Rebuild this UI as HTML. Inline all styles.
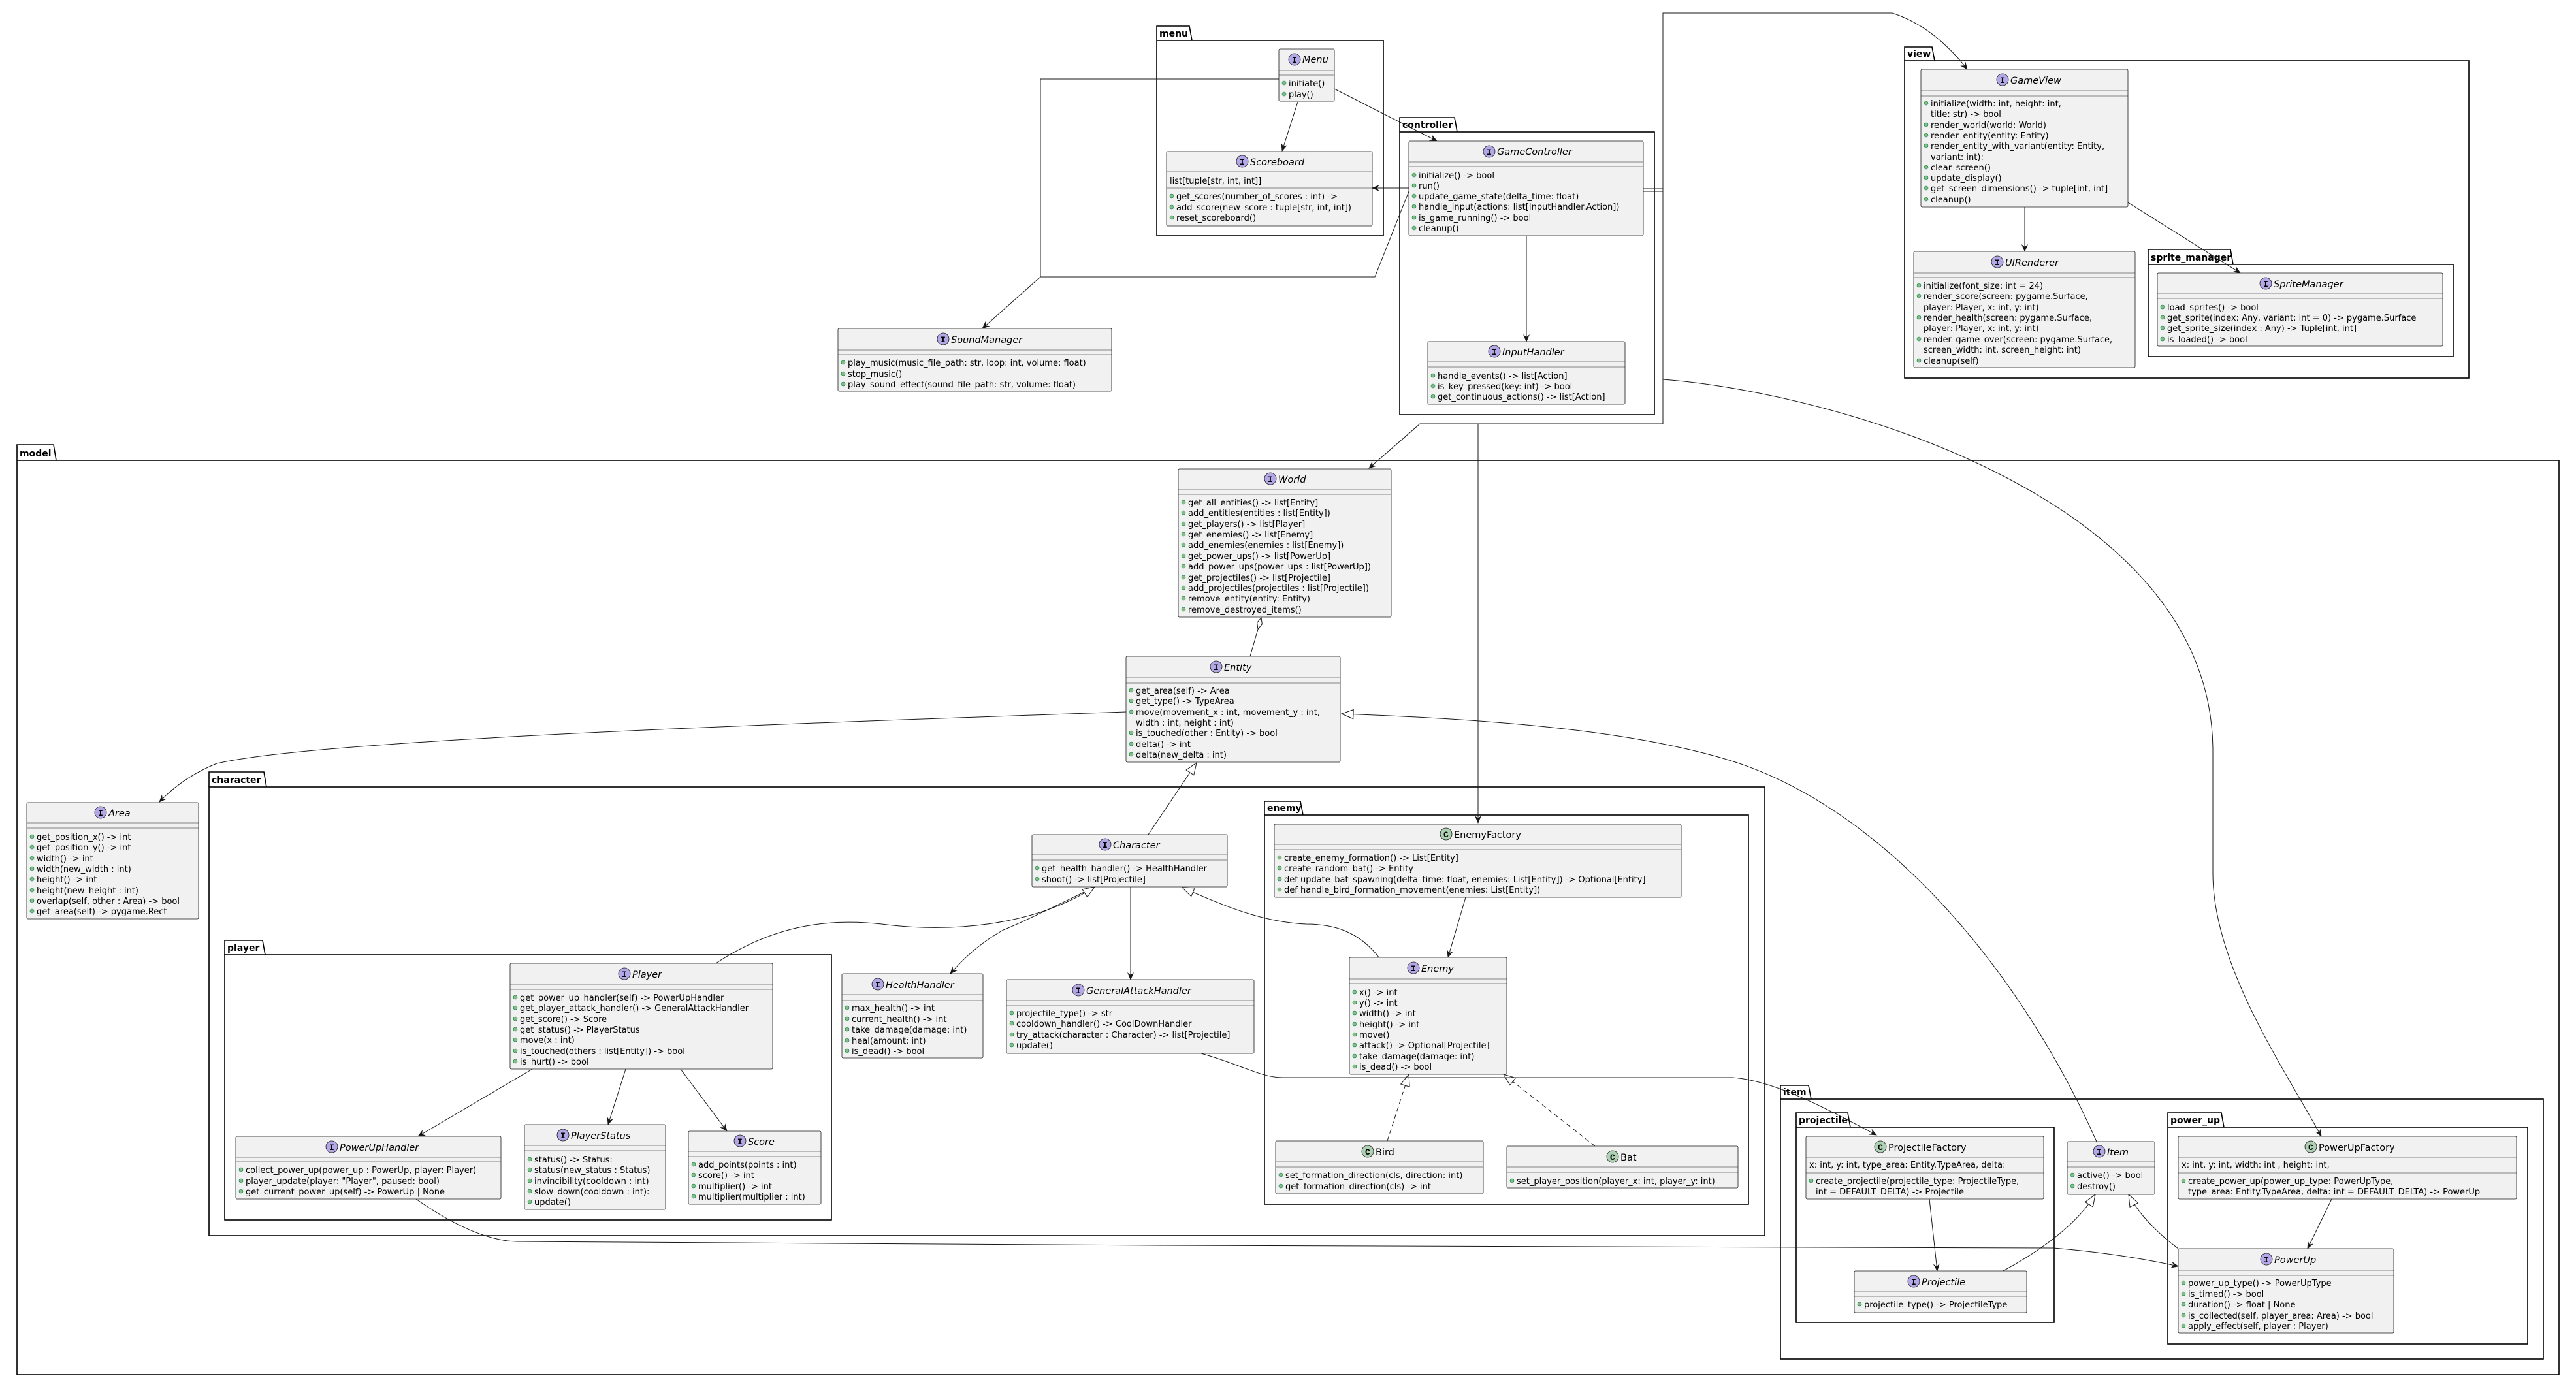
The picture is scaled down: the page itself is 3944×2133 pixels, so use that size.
<!DOCTYPE html>
<html><head><meta charset="utf-8"><style>
html,body{margin:0;padding:0;background:#fff}
svg text{font-family:"DejaVu Sans","Liberation Sans",sans-serif;fill:#000}
.m{font-size:13px}
.n{font-size:14.5px;font-style:italic}
.c{font-size:14.5px}
.p{font-size:14px;font-weight:bold}
.ic{font-size:13px;font-weight:bold;font-family:"Liberation Mono",monospace}
.box{fill:#F1F1F1;stroke:#181818;stroke-width:0.8}
.sep{stroke:#181818;stroke-width:0.6}
.pk{fill:none;stroke:#000;stroke-width:1.6}
.l{fill:none;stroke:#181818;stroke-width:1}
.b{fill:#84BE84;stroke:#038048;stroke-width:0.6}
</style></head><body>
<svg width="3944" height="2128" viewBox="0 0 3944 2128" xmlns="http://www.w3.org/2000/svg">
<defs>
<marker id="a" viewBox="0 0 12 10" refX="11" refY="5" markerWidth="12" markerHeight="10" markerUnits="userSpaceOnUse" orient="auto"><path d="M0,0 L12,5 L0,10 L4,5 z" fill="#181818"/></marker>
<marker id="t" viewBox="0 0 20 16" refX="19" refY="8" markerWidth="20" markerHeight="16" markerUnits="userSpaceOnUse" orient="auto"><path d="M1,1 L19,8 L1,15 z" fill="#fff" stroke="#181818" stroke-width="1"/></marker>
<marker id="d" viewBox="0 0 20 10" refX="1" refY="5" markerWidth="20" markerHeight="10" markerUnits="userSpaceOnUse" orient="auto"><path d="M1,5 L10,1 L19,5 L10,9 z" fill="#fff" stroke="#181818" stroke-width="1"/></marker>
</defs>

<!-- PACKAGES -->
<g>
<path class="pk" d="M1771,62 V40 H1821 L1825,62"/><rect class="pk" x="1771" y="62" width="347" height="299"/><text class="p" x="1775" y="56">menu</text>
<path class="pk" d="M2143,202 V180 H2227 L2231,202"/><rect class="pk" x="2143" y="202" width="390" height="433"/><text class="p" x="2147" y="196">controller</text>
<path class="pk" d="M2916,93 V72 H2958 L2962,93"/><rect class="pk" x="2916" y="93" width="864" height="486"/><text class="p" x="2920" y="87">view</text>
<path class="pk" d="M3289,405 V382 H3415 L3419,405"/><rect class="pk" x="3289" y="405" width="467" height="141"/><text class="p" x="3293" y="399">sprite_manager</text>
<path class="pk" d="M26,705 V681 H82 L86,705"/><rect class="pk" x="26" y="705" width="3892" height="1400"/><text class="p" x="30" y="699">model</text>
<path class="pk" d="M320,1205 V1182 H404 L408,1205"/><rect class="pk" x="320" y="1205" width="2382" height="687"/><text class="p" x="324" y="1199">character</text>
<path class="pk" d="M344,1462 V1440 H402 L406,1462"/><rect class="pk" x="344" y="1462" width="929" height="406"/><text class="p" x="348" y="1456">player</text>
<path class="pk" d="M1936,1248 V1227 H1991 L1995,1248"/><rect class="pk" x="1936" y="1248" width="741" height="596"/><text class="p" x="1940" y="1242">enemy</text>
<path class="pk" d="M2726,1683 V1662 H2769 L2773,1683"/><rect class="pk" x="2726" y="1683" width="1168" height="398"/><text class="p" x="2730" y="1677">item</text>
<path class="pk" d="M2750,1726 V1704 H2829 L2833,1726"/><rect class="pk" x="2750" y="1726" width="395" height="299"/><text class="p" x="2754" y="1720">projectile</text>
<path class="pk" d="M3319,1726 V1704 H3401 L3405,1726"/><rect class="pk" x="3319" y="1726" width="551" height="332"/><text class="p" x="3323" y="1720">power_up</text>
</g>

<!-- CONNECTORS -->
<g>
<path class="l" d="M1958,121 H1593 V424 L1504,503" marker-end="url(#a)"/>
<path class="l" d="M2159,288 L2105,424 H1593"/>
<path class="l" d="M1987,156 L1963,231" marker-end="url(#a)"/>
<path class="l" d="M2043,136 L2200,216" marker-end="url(#a)"/>
<path class="l" d="M2157,288 L2101,288" marker-end="url(#a)"/>
<path class="l" d="M2337,361 V523" marker-end="url(#a)"/>
<path class="l" d="M2516,289 H2546 M2516,293 H2546"/>
<path class="l" d="M2546,291 V20 H2897 Q2960,40 3012,106" marker-end="url(#a)"/>
<path class="l" d="M2546,291 V649 H2174 L2096,717" marker-end="url(#a)"/>
<path class="l" d="M2263,649 V1260" marker-end="url(#a)"/>
<path class="l" d="M2546,581 C2800,600 3388,760 3388,1150 V1337 C3388,1480 3500,1640 3554,1740" marker-end="url(#a)"/>
<path class="l" d="M3100,317 V385" marker-end="url(#a)"/>
<path class="l" d="M3258,310 L3430,418" marker-end="url(#a)"/>
<path class="l" d="M1931,946 L1914,1005" marker-start="url(#d)"/>
<path class="l" d="M1724,1090 C1300,1105 500,1130 332,1169 Q280,1190 244,1228" marker-end="url(#a)"/>
<path class="l" d="M1758,1278 L1832,1168" marker-end="url(#t)"/>
<path class="l" d="M3210,1748 C3100,1500 2900,1250 2663,1169 C2500,1115 2250,1100 2054,1093" marker-end="url(#t)"/>
<path class="l" d="M1676,1358 Q1560,1415 1536,1424 Q1490,1450 1455,1491" marker-end="url(#a)"/>
<path class="l" d="M1731,1358 V1500" marker-end="url(#a)"/>
<path class="l" d="M1096,1475 C1180,1420 1260,1405 1350,1415 C1450,1428 1580,1420 1676,1358" marker-end="url(#t)"/>
<path class="l" d="M2112,1467 C2080,1425 2040,1415 2000,1415 C1930,1412 1870,1385 1810,1359" marker-end="url(#t)"/>
<path class="l" d="M2244,1374 L2217,1466" marker-end="url(#a)"/>
<path class="l" d="M2124,1747 L2157,1645" stroke-dasharray="7,5" marker-end="url(#t)"/>
<path class="l" d="M2442,1755 L2302,1645" stroke-dasharray="7,5" marker-end="url(#t)"/>
<path class="l" d="M1839,1613 C1900,1630 1930,1650 1964,1650 H2653 C2720,1655 2800,1700 2873,1738" marker-end="url(#a)"/>
<path class="l" d="M815,1637 L640,1740" marker-end="url(#a)"/>
<path class="l" d="M958,1637 L931,1722" marker-end="url(#a)"/>
<path class="l" d="M1042,1637 L1113,1732" marker-end="url(#a)"/>
<path class="l" d="M637,1836 C700,1880 750,1900 791,1901 C1500,1908 2800,1910 3144,1911 Q3250,1920 3335,1939" marker-end="url(#a)"/>
<path class="l" d="M2954,1836 L2966,1946" marker-end="url(#a)"/>
<path class="l" d="M3570,1836 L3533,1912" marker-end="url(#a)"/>
<path class="l" d="M3067,1946 Q3170,1890 3208,1829" marker-end="url(#t)"/>
<path class="l" d="M3335,1912 Q3280,1870 3259,1829" marker-end="url(#t)"/>
</g>

<!-- CLASSES -->
<!-- Menu -->
<g><rect class="box" x="1958" y="75" width="85" height="80" rx="2"/><line class="sep" x1="1958" y1="108" x2="2043" y2="108"/><line class="sep" x1="1958" y1="115" x2="2043" y2="115"/>
<circle cx="1982" cy="91" r="9" fill="#B4A7E5" stroke="#181818" stroke-width="0.8"/><text class="ic" x="1978" y="96">I</text><text class="n" x="1994" y="96">Menu</text>
<circle class="b" cx="1966" cy="127" r="3"/><text class="m" x="1973" y="132">initiate()</text>
<circle class="b" cx="1966" cy="144" r="3"/><text class="m" x="1973" y="149">play()</text></g>

<!-- Scoreboard -->
<g><rect class="box" x="1786" y="232" width="315" height="114" rx="2"/><line class="sep" x1="1786" y1="263" x2="2101" y2="263"/><line class="sep" x1="1786" y1="288" x2="2101" y2="288"/>
<circle cx="1902" cy="247" r="9" fill="#B4A7E5" stroke="#181818" stroke-width="0.8"/><text class="ic" x="1898" y="252">I</text><text class="n" x="1914" y="253">Scoreboard</text>
<text class="m" x="1791" y="281">list[tuple[str, int, int]]</text>
<circle class="b" cx="1794" cy="300" r="3"/><text class="m" x="1801" y="305">get_scores(number_of_scores : int) -&gt;</text>
<circle class="b" cx="1794" cy="317" r="3"/><text class="m" x="1801" y="322">add_score(new_score : tuple[str, int, int])</text>
<circle class="b" cx="1794" cy="333" r="3"/><text class="m" x="1801" y="338">reset_scoreboard()</text></g>

<!-- GameController -->
<g><rect class="box" x="2157" y="216" width="359" height="145" rx="2"/><line class="sep" x1="2157" y1="248" x2="2516" y2="248"/><line class="sep" x1="2157" y1="255" x2="2516" y2="255"/>
<circle cx="2280" cy="232" r="9" fill="#B4A7E5" stroke="#181818" stroke-width="0.8"/><text class="ic" x="2276" y="237">I</text><text class="n" x="2292" y="237">GameController</text>
<circle class="b" cx="2165" cy="268" r="3"/><text class="m" x="2172" y="273">initialize() -&gt; bool</text>
<circle class="b" cx="2165" cy="284" r="3"/><text class="m" x="2172" y="289">run()</text>
<circle class="b" cx="2165" cy="300" r="3"/><text class="m" x="2172" y="305">update_game_state(delta_time: float)</text>
<circle class="b" cx="2165" cy="316" r="3"/><text class="m" x="2172" y="321">handle_input(actions: list[InputHandler.Action])</text>
<circle class="b" cx="2165" cy="333" r="3"/><text class="m" x="2172" y="338">is_game_running() -&gt; bool</text>
<circle class="b" cx="2165" cy="349" r="3"/><text class="m" x="2172" y="354">cleanup()</text></g>

<!-- InputHandler -->
<g><rect class="box" x="2186" y="523" width="302" height="96" rx="2"/><line class="sep" x1="2186" y1="554" x2="2488" y2="554"/><line class="sep" x1="2186" y1="562" x2="2488" y2="562"/>
<circle cx="2288" cy="538" r="9" fill="#B4A7E5" stroke="#181818" stroke-width="0.8"/><text class="ic" x="2284" y="543">I</text><text class="n" x="2300" y="544">InputHandler</text>
<circle class="b" cx="2194" cy="575" r="3"/><text class="m" x="2201" y="580">handle_events() -&gt; list[Action]</text>
<circle class="b" cx="2194" cy="591" r="3"/><text class="m" x="2201" y="596">is_key_pressed(key: int) -&gt; bool</text>
<circle class="b" cx="2194" cy="607" r="3"/><text class="m" x="2201" y="612">get_continuous_actions() -&gt; list[Action]</text></g>

<!-- SoundManager -->
<g><rect class="box" x="1283" y="503" width="419" height="96" rx="2"/><line class="sep" x1="1283" y1="536" x2="1702" y2="536"/><line class="sep" x1="1283" y1="543" x2="1702" y2="543"/>
<circle cx="1444" cy="519" r="9" fill="#B4A7E5" stroke="#181818" stroke-width="0.8"/><text class="ic" x="1440" y="524">I</text><text class="n" x="1456" y="525">SoundManager</text>
<circle class="b" cx="1291" cy="555" r="3"/><text class="m" x="1298" y="560">play_music(music_file_path: str, loop: int, volume: float)</text>
<circle class="b" cx="1291" cy="572" r="3"/><text class="m" x="1298" y="577">stop_music()</text>
<circle class="b" cx="1291" cy="588" r="3"/><text class="m" x="1298" y="593">play_sound_effect(sound_file_path: str, volume: float)</text></g>

<!-- GameView -->
<g><rect class="box" x="2941" y="106" width="317" height="211" rx="2"/><line class="sep" x1="2941" y1="139" x2="3258" y2="139"/><line class="sep" x1="2941" y1="147" x2="3258" y2="147"/>
<circle cx="3066" cy="122" r="9" fill="#B4A7E5" stroke="#181818" stroke-width="0.8"/><text class="ic" x="3062" y="127">I</text><text class="n" x="3078" y="128">GameView</text>
<circle class="b" cx="2949" cy="158" r="3"/><text class="m" x="2956" y="163">initialize(width: int, height: int,</text>
<text class="m" x="2956" y="179">title: str) -&gt; bool</text>
<circle class="b" cx="2949" cy="191" r="3"/><text class="m" x="2956" y="196">render_world(world: World)</text>
<circle class="b" cx="2949" cy="207" r="3"/><text class="m" x="2956" y="212">render_entity(entity: Entity)</text>
<circle class="b" cx="2949" cy="223" r="3"/><text class="m" x="2956" y="228">render_entity_with_variant(entity: Entity,</text>
<text class="m" x="2956" y="245">variant: int):</text>
<circle class="b" cx="2949" cy="256" r="3"/><text class="m" x="2956" y="261">clear_screen()</text>
<circle class="b" cx="2949" cy="272" r="3"/><text class="m" x="2956" y="277">update_display()</text>
<circle class="b" cx="2949" cy="288" r="3"/><text class="m" x="2956" y="293">get_screen_dimensions() -&gt; tuple[int, int]</text>
<circle class="b" cx="2949" cy="305" r="3"/><text class="m" x="2956" y="310">cleanup()</text></g>

<!-- UIRenderer -->
<g><rect class="box" x="2930" y="385" width="339" height="178" rx="2"/><line class="sep" x1="2930" y1="418" x2="3269" y2="418"/><line class="sep" x1="2930" y1="425" x2="3269" y2="425"/>
<circle cx="3058" cy="401" r="9" fill="#B4A7E5" stroke="#181818" stroke-width="0.8"/><text class="ic" x="3054" y="406">I</text><text class="n" x="3070" y="407">UIRenderer</text>
<circle class="b" cx="2938" cy="437" r="3"/><text class="m" x="2945" y="442">initialize(font_size: int = 24)</text>
<circle class="b" cx="2938" cy="453" r="3"/><text class="m" x="2945" y="458">render_score(screen: pygame.Surface,</text>
<text class="m" x="2945" y="475">player: Player, x: int, y: int)</text>
<circle class="b" cx="2938" cy="486" r="3"/><text class="m" x="2945" y="491">render_health(screen: pygame.Surface,</text>
<text class="m" x="2945" y="507">player: Player, x: int, y: int)</text>
<circle class="b" cx="2938" cy="519" r="3"/><text class="m" x="2945" y="524">render_game_over(screen: pygame.Surface,</text>
<text class="m" x="2945" y="540">screen_width: int, screen_height: int)</text>
<circle class="b" cx="2938" cy="552" r="3"/><text class="m" x="2945" y="557">cleanup(self)</text></g>

<!-- SpriteManager -->
<g><rect class="box" x="3303" y="418" width="437" height="112" rx="2"/><line class="sep" x1="3303" y1="449" x2="3740" y2="449"/><line class="sep" x1="3303" y1="457" x2="3740" y2="457"/>
<circle cx="3469" cy="434" r="9" fill="#B4A7E5" stroke="#181818" stroke-width="0.8"/><text class="ic" x="3465" y="439">I</text><text class="n" x="3481" y="440">SpriteManager</text>
<circle class="b" cx="3311" cy="470" r="3"/><text class="m" x="3318" y="475">load_sprites() -&gt; bool</text>
<circle class="b" cx="3311" cy="486" r="3"/><text class="m" x="3318" y="491">get_sprite(index: Any, variant: int = 0) -&gt; pygame.Surface</text>
<circle class="b" cx="3311" cy="502" r="3"/><text class="m" x="3318" y="507">get_sprite_size(index : Any) -&gt; Tuple[int, int]</text>
<circle class="b" cx="3311" cy="519" r="3"/><text class="m" x="3318" y="524">is_loaded() -&gt; bool</text></g>

<!-- World -->
<g><rect class="box" x="1804" y="718" width="326" height="227" rx="2"/><line class="sep" x1="1804" y1="750" x2="2130" y2="750"/><line class="sep" x1="1804" y1="757" x2="2130" y2="757"/>
<circle cx="1945" cy="733" r="9" fill="#B4A7E5" stroke="#181818" stroke-width="0.8"/><text class="ic" x="1941" y="738">I</text><text class="n" x="1957" y="739">World</text>
<circle class="b" cx="1812" cy="769" r="3"/><text class="m" x="1819" y="774">get_all_entities() -&gt; list[Entity]</text>
<circle class="b" cx="1812" cy="785" r="3"/><text class="m" x="1819" y="790">add_entities(entities : list[Entity])</text>
<circle class="b" cx="1812" cy="802" r="3"/><text class="m" x="1819" y="807">get_players() -&gt; list[Player]</text>
<circle class="b" cx="1812" cy="818" r="3"/><text class="m" x="1819" y="823">get_enemies() -&gt; list[Enemy]</text>
<circle class="b" cx="1812" cy="834" r="3"/><text class="m" x="1819" y="839">add_enemies(enemies : list[Enemy])</text>
<circle class="b" cx="1812" cy="851" r="3"/><text class="m" x="1819" y="856">get_power_ups() -&gt; list[PowerUp]</text>
<circle class="b" cx="1812" cy="867" r="3"/><text class="m" x="1819" y="872">add_power_ups(power_ups : list[PowerUp])</text>
<circle class="b" cx="1812" cy="884" r="3"/><text class="m" x="1819" y="889">get_projectiles() -&gt; list[Projectile]</text>
<circle class="b" cx="1812" cy="900" r="3"/><text class="m" x="1819" y="905">add_projectiles(projectiles : list[Projectile])</text>
<circle class="b" cx="1812" cy="916" r="3"/><text class="m" x="1819" y="921">remove_entity(entity: Entity)</text>
<circle class="b" cx="1812" cy="933" r="3"/><text class="m" x="1819" y="938">remove_destroyed_items()</text></g>

<!-- Entity -->
<g><rect class="box" x="1724" y="1005" width="328" height="162" rx="2"/><line class="sep" x1="1724" y1="1037" x2="2052" y2="1037"/><line class="sep" x1="1724" y1="1046" x2="2052" y2="1046"/>
<circle cx="1862" cy="1021" r="9" fill="#B4A7E5" stroke="#181818" stroke-width="0.8"/><text class="ic" x="1858" y="1026">I</text><text class="n" x="1874" y="1027">Entity</text>
<circle class="b" cx="1732" cy="1057" r="3"/><text class="m" x="1739" y="1062">get_area(self) -&gt; Area</text>
<circle class="b" cx="1732" cy="1073" r="3"/><text class="m" x="1739" y="1078">get_type() -&gt; TypeArea</text>
<circle class="b" cx="1732" cy="1090" r="3"/><text class="m" x="1739" y="1095">move(movement_x : int, movement_y : int,</text>
<text class="m" x="1739" y="1111">width : int, height : int)</text>
<circle class="b" cx="1732" cy="1122" r="3"/><text class="m" x="1739" y="1127">is_touched(other : Entity) -&gt; bool</text>
<circle class="b" cx="1732" cy="1139" r="3"/><text class="m" x="1739" y="1144">delta() -&gt; int</text>
<circle class="b" cx="1732" cy="1155" r="3"/><text class="m" x="1739" y="1160">delta(new_delta : int)</text></g>

<!-- Area -->
<g><rect class="box" x="41" y="1229" width="263" height="178" rx="2"/><line class="sep" x1="41" y1="1260" x2="304" y2="1260"/><line class="sep" x1="41" y1="1268" x2="304" y2="1268"/>
<circle cx="154" cy="1244" r="9" fill="#B4A7E5" stroke="#181818" stroke-width="0.8"/><text class="ic" x="150" y="1249">I</text><text class="n" x="166" y="1250">Area</text>
<circle class="b" cx="49" cy="1281" r="3"/><text class="m" x="56" y="1286">get_position_x() -&gt; int</text>
<circle class="b" cx="49" cy="1297" r="3"/><text class="m" x="56" y="1302">get_position_y() -&gt; int</text>
<circle class="b" cx="49" cy="1314" r="3"/><text class="m" x="56" y="1319">width() -&gt; int</text>
<circle class="b" cx="49" cy="1330" r="3"/><text class="m" x="56" y="1335">width(new_width : int)</text>
<circle class="b" cx="49" cy="1346" r="3"/><text class="m" x="56" y="1351">height() -&gt; int</text>
<circle class="b" cx="49" cy="1363" r="3"/><text class="m" x="56" y="1368">height(new_height : int)</text>
<circle class="b" cx="49" cy="1379" r="3"/><text class="m" x="56" y="1384">overlap(self, other : Area) -&gt; bool</text>
<circle class="b" cx="49" cy="1395" r="3"/><text class="m" x="56" y="1400">get_area(self) -&gt; pygame.Rect</text></g>

<!-- Character -->
<g><rect class="box" x="1580" y="1278" width="299" height="80" rx="2"/><line class="sep" x1="1580" y1="1308" x2="1879" y2="1308"/><line class="sep" x1="1580" y1="1317" x2="1879" y2="1317"/>
<circle cx="1692" cy="1293" r="9" fill="#B4A7E5" stroke="#181818" stroke-width="0.8"/><text class="ic" x="1688" y="1298">I</text><text class="n" x="1704" y="1299">Character</text>
<circle class="b" cx="1588" cy="1329" r="3"/><text class="m" x="1595" y="1334">get_health_handler() -&gt; HealthHandler</text>
<circle class="b" cx="1588" cy="1346" r="3"/><text class="m" x="1595" y="1351">shoot() -&gt; list[Projectile]</text></g>

<!-- HealthHandler -->
<g><rect class="box" x="1289" y="1491" width="216" height="129" rx="2"/><line class="sep" x1="1289" y1="1523" x2="1505" y2="1523"/><line class="sep" x1="1289" y1="1532" x2="1505" y2="1532"/>
<circle cx="1344" cy="1507" r="9" fill="#B4A7E5" stroke="#181818" stroke-width="0.8"/><text class="ic" x="1340" y="1512">I</text><text class="n" x="1356" y="1513">HealthHandler</text>
<circle class="b" cx="1297" cy="1543" r="3"/><text class="m" x="1304" y="1548">max_health() -&gt; int</text>
<circle class="b" cx="1297" cy="1560" r="3"/><text class="m" x="1304" y="1565">current_health() -&gt; int</text>
<circle class="b" cx="1297" cy="1576" r="3"/><text class="m" x="1304" y="1581">take_damage(damage: int)</text>
<circle class="b" cx="1297" cy="1593" r="3"/><text class="m" x="1304" y="1598">heal(amount: int)</text>
<circle class="b" cx="1297" cy="1609" r="3"/><text class="m" x="1304" y="1614">is_dead() -&gt; bool</text></g>

<!-- GeneralAttackHandler -->
<g><rect class="box" x="1541" y="1500" width="379" height="113" rx="2"/><line class="sep" x1="1541" y1="1532" x2="1920" y2="1532"/><line class="sep" x1="1541" y1="1540" x2="1920" y2="1540"/>
<circle cx="1651" cy="1516" r="9" fill="#B4A7E5" stroke="#181818" stroke-width="0.8"/><text class="ic" x="1647" y="1521">I</text><text class="n" x="1663" y="1522">GeneralAttackHandler</text>
<circle class="b" cx="1549" cy="1551" r="3"/><text class="m" x="1556" y="1556">projectile_type() -&gt; str</text>
<circle class="b" cx="1549" cy="1567" r="3"/><text class="m" x="1556" y="1572">cooldown_handler() -&gt; CoolDownHandler</text>
<circle class="b" cx="1549" cy="1584" r="3"/><text class="m" x="1556" y="1589">try_attack(character : Character) -&gt; list[Projectile]</text>
<circle class="b" cx="1549" cy="1600" r="3"/><text class="m" x="1556" y="1605">update()</text></g>

<!-- Player -->
<g><rect class="box" x="781" y="1475" width="402" height="162" rx="2"/><line class="sep" x1="781" y1="1507" x2="1183" y2="1507"/><line class="sep" x1="781" y1="1515" x2="1183" y2="1515"/>
<circle cx="956" cy="1491" r="9" fill="#B4A7E5" stroke="#181818" stroke-width="0.8"/><text class="ic" x="952" y="1496">I</text><text class="n" x="968" y="1497">Player</text>
<circle class="b" cx="789" cy="1527" r="3"/><text class="m" x="796" y="1532">get_power_up_handler(self) -&gt; PowerUpHandler</text>
<circle class="b" cx="789" cy="1543" r="3"/><text class="m" x="796" y="1548">get_player_attack_handler() -&gt; GeneralAttackHandler</text>
<circle class="b" cx="789" cy="1560" r="3"/><text class="m" x="796" y="1565">get_score() -&gt; Score</text>
<circle class="b" cx="789" cy="1576" r="3"/><text class="m" x="796" y="1581">get_status() -&gt; PlayerStatus</text>
<circle class="b" cx="789" cy="1592" r="3"/><text class="m" x="796" y="1597">move(x : int)</text>
<circle class="b" cx="789" cy="1609" r="3"/><text class="m" x="796" y="1614">is_touched(others : list[Entity]) -&gt; bool</text>
<circle class="b" cx="789" cy="1625" r="3"/><text class="m" x="796" y="1630">is_hurt() -&gt; bool</text></g>

<!-- PowerUpHandler -->
<g><rect class="box" x="361" y="1740" width="406" height="96" rx="2"/><line class="sep" x1="361" y1="1772" x2="767" y2="1772"/><line class="sep" x1="361" y1="1779" x2="767" y2="1779"/>
<circle cx="508" cy="1756" r="9" fill="#B4A7E5" stroke="#181818" stroke-width="0.8"/><text class="ic" x="504" y="1761">I</text><text class="n" x="520" y="1762">PowerUpHandler</text>
<circle class="b" cx="369" cy="1791" r="3"/><text class="m" x="376" y="1796">collect_power_up(power_up : PowerUp, player: Player)</text>
<circle class="b" cx="369" cy="1808" r="3"/><text class="m" x="376" y="1813">player_update(player: "Player", paused: bool)</text>
<circle class="b" cx="369" cy="1824" r="3"/><text class="m" x="376" y="1829">get_current_power_up(self) -&gt; PowerUp | None</text></g>

<!-- PlayerStatus -->
<g><rect class="box" x="803" y="1722" width="216" height="130" rx="2"/><line class="sep" x1="803" y1="1754" x2="1019" y2="1754"/><line class="sep" x1="803" y1="1762" x2="1019" y2="1762"/>
<circle cx="862" cy="1738" r="9" fill="#B4A7E5" stroke="#181818" stroke-width="0.8"/><text class="ic" x="858" y="1743">I</text><text class="n" x="874" y="1744">PlayerStatus</text>
<circle class="b" cx="811" cy="1775" r="3"/><text class="m" x="818" y="1780">status() -&gt; Status:</text>
<circle class="b" cx="811" cy="1791" r="3"/><text class="m" x="818" y="1796">status(new_status : Status)</text>
<circle class="b" cx="811" cy="1808" r="3"/><text class="m" x="818" y="1813">invincibility(cooldown : int)</text>
<circle class="b" cx="811" cy="1824" r="3"/><text class="m" x="818" y="1829">slow_down(cooldown : int):</text>
<circle class="b" cx="811" cy="1840" r="3"/><text class="m" x="818" y="1845">update()</text></g>

<!-- Score -->
<g><rect class="box" x="1054" y="1732" width="203" height="112" rx="2"/><line class="sep" x1="1054" y1="1763" x2="1257" y2="1763"/><line class="sep" x1="1054" y1="1771" x2="1257" y2="1771"/>
<circle cx="1133" cy="1747" r="9" fill="#B4A7E5" stroke="#181818" stroke-width="0.8"/><text class="ic" x="1129" y="1752">I</text><text class="n" x="1145" y="1753">Score</text>
<circle class="b" cx="1062" cy="1783" r="3"/><text class="m" x="1069" y="1788">add_points(points : int)</text>
<circle class="b" cx="1062" cy="1799" r="3"/><text class="m" x="1069" y="1804">score() -&gt; int</text>
<circle class="b" cx="1062" cy="1816" r="3"/><text class="m" x="1069" y="1821">multiplier() -&gt; int</text>
<circle class="b" cx="1062" cy="1832" r="3"/><text class="m" x="1069" y="1837">multiplier(multiplier : int)</text></g>

<!-- EnemyFactory -->
<g><rect class="box" x="1951" y="1262" width="623" height="112" rx="2"/><line class="sep" x1="1951" y1="1293" x2="2574" y2="1293"/><line class="sep" x1="1951" y1="1301" x2="2574" y2="1301"/>
<circle cx="2214" cy="1277" r="9" fill="#ADD1B2" stroke="#181818" stroke-width="0.8"/><text class="ic" x="2210" y="1282">C</text><text class="c" x="2226" y="1283">EnemyFactory</text>
<circle class="b" cx="1959" cy="1313" r="3"/><text class="m" x="1966" y="1318">create_enemy_formation() -&gt; List[Entity]</text>
<circle class="b" cx="1959" cy="1329" r="3"/><text class="m" x="1966" y="1334">create_random_bat() -&gt; Entity</text>
<circle class="b" cx="1959" cy="1346" r="3"/><text class="m" x="1966" y="1351">def update_bat_spawning(delta_time: float, enemies: List[Entity]) -&gt; Optional[Entity]</text>
<circle class="b" cx="1959" cy="1362" r="3"/><text class="m" x="1966" y="1367">def handle_bird_formation_movement(enemies: List[Entity])</text></g>

<!-- Enemy -->
<g><rect class="box" x="2066" y="1466" width="241" height="179" rx="2"/><line class="sep" x1="2066" y1="1499" x2="2307" y2="1499"/><line class="sep" x1="2066" y1="1506" x2="2307" y2="1506"/>
<circle cx="2164" cy="1482" r="9" fill="#B4A7E5" stroke="#181818" stroke-width="0.8"/><text class="ic" x="2160" y="1487">I</text><text class="n" x="2176" y="1488">Enemy</text>
<circle class="b" cx="2074" cy="1519" r="3"/><text class="m" x="2081" y="1524">x() -&gt; int</text>
<circle class="b" cx="2074" cy="1535" r="3"/><text class="m" x="2081" y="1540">y() -&gt; int</text>
<circle class="b" cx="2074" cy="1551" r="3"/><text class="m" x="2081" y="1556">width() -&gt; int</text>
<circle class="b" cx="2074" cy="1568" r="3"/><text class="m" x="2081" y="1573">height() -&gt; int</text>
<circle class="b" cx="2074" cy="1584" r="3"/><text class="m" x="2081" y="1589">move()</text>
<circle class="b" cx="2074" cy="1600" r="3"/><text class="m" x="2081" y="1605">attack() -&gt; Optional[Projectile]</text>
<circle class="b" cx="2074" cy="1617" r="3"/><text class="m" x="2081" y="1622">take_damage(damage: int)</text>
<circle class="b" cx="2074" cy="1633" r="3"/><text class="m" x="2081" y="1638">is_dead() -&gt; bool</text></g>

<!-- Bird -->
<g><rect class="box" x="1953" y="1747" width="318" height="81" rx="2"/><line class="sep" x1="1953" y1="1779" x2="2271" y2="1779"/><line class="sep" x1="1953" y1="1787" x2="2271" y2="1787"/>
<circle cx="2094" cy="1763" r="9" fill="#ADD1B2" stroke="#181818" stroke-width="0.8"/><text class="ic" x="2090" y="1768">C</text><text class="c" x="2106" y="1769">Bird</text>
<circle class="b" cx="1961" cy="1799" r="3"/><text class="m" x="1968" y="1804">set_formation_direction(cls, direction: int)</text>
<circle class="b" cx="1961" cy="1816" r="3"/><text class="m" x="1968" y="1821">get_formation_direction(cls) -&gt; int</text></g>

<!-- Bat -->
<g><rect class="box" x="2307" y="1755" width="354" height="64" rx="2"/><line class="sep" x1="2307" y1="1787" x2="2661" y2="1787"/><line class="sep" x1="2307" y1="1795" x2="2661" y2="1795"/>
<circle cx="2469" cy="1771" r="9" fill="#ADD1B2" stroke="#181818" stroke-width="0.8"/><text class="ic" x="2465" y="1776">C</text><text class="c" x="2481" y="1777">Bat</text>
<circle class="b" cx="2315" cy="1808" r="3"/><text class="m" x="2322" y="1813">set_player_position(player_x: int, player_y: int)</text></g>

<!-- ProjectileFactory -->
<g><rect class="box" x="2765" y="1740" width="364" height="96" rx="2"/><line class="sep" x1="2765" y1="1772" x2="3129" y2="1772"/><line class="sep" x1="2765" y1="1796" x2="3129" y2="1796"/>
<circle cx="2879" cy="1756" r="9" fill="#ADD1B2" stroke="#181818" stroke-width="0.8"/><text class="ic" x="2875" y="1761">C</text><text class="c" x="2891" y="1762">ProjectileFactory</text>
<text class="m" x="2770" y="1788">x: int, y: int, type_area: Entity.TypeArea, delta:</text>
<circle class="b" cx="2773" cy="1808" r="3"/><text class="m" x="2780" y="1813">create_projectile(projectile_type: ProjectileType,</text>
<text class="m" x="2780" y="1829">int = DEFAULT_DELTA) -&gt; Projectile</text></g>

<!-- Projectile -->
<g><rect class="box" x="2839" y="1946" width="264" height="64" rx="2"/><line class="sep" x1="2839" y1="1978" x2="3103" y2="1978"/><line class="sep" x1="2839" y1="1985" x2="3103" y2="1985"/>
<circle cx="2930" cy="1962" r="9" fill="#B4A7E5" stroke="#181818" stroke-width="0.8"/><text class="ic" x="2926" y="1967">I</text><text class="n" x="2942" y="1968">Projectile</text>
<circle class="b" cx="2847" cy="1997" r="3"/><text class="m" x="2854" y="2002">projectile_type() -&gt; ProjectileType</text></g>

<!-- Item -->
<g><rect class="box" x="3165" y="1748" width="134" height="81" rx="2"/><line class="sep" x1="3165" y1="1779" x2="3299" y2="1779"/><line class="sep" x1="3165" y1="1787" x2="3299" y2="1787"/>
<circle cx="3214" cy="1763" r="9" fill="#B4A7E5" stroke="#181818" stroke-width="0.8"/><text class="ic" x="3210" y="1768">I</text><text class="n" x="3226" y="1769">Item</text>
<circle class="b" cx="3173" cy="1799" r="3"/><text class="m" x="3180" y="1804">active() -&gt; bool</text>
<circle class="b" cx="3173" cy="1816" r="3"/><text class="m" x="3180" y="1821">destroy()</text></g>

<!-- PowerUpFactory -->
<g><rect class="box" x="3335" y="1740" width="518" height="96" rx="2"/><line class="sep" x1="3335" y1="1772" x2="3853" y2="1772"/><line class="sep" x1="3335" y1="1796" x2="3853" y2="1796"/>
<circle cx="3538" cy="1756" r="9" fill="#ADD1B2" stroke="#181818" stroke-width="0.8"/><text class="ic" x="3534" y="1761">C</text><text class="c" x="3550" y="1762">PowerUpFactory</text>
<text class="m" x="3340" y="1788">x: int, y: int, width: int , height: int,</text>
<circle class="b" cx="3343" cy="1808" r="3"/><text class="m" x="3350" y="1813">create_power_up(power_up_type: PowerUpType,</text>
<text class="m" x="3350" y="1829">type_area: Entity.TypeArea, delta: int = DEFAULT_DELTA) -&gt; PowerUp</text></g>

<!-- PowerUp -->
<g><rect class="box" x="3335" y="1912" width="330" height="129" rx="2"/><line class="sep" x1="3335" y1="1945" x2="3665" y2="1945"/><line class="sep" x1="3335" y1="1953" x2="3665" y2="1953"/>
<circle cx="3470" cy="1928" r="9" fill="#B4A7E5" stroke="#181818" stroke-width="0.8"/><text class="ic" x="3466" y="1933">I</text><text class="n" x="3482" y="1934">PowerUp</text>
<circle class="b" cx="3343" cy="1964" r="3"/><text class="m" x="3350" y="1969">power_up_type() -&gt; PowerUpType</text>
<circle class="b" cx="3343" cy="1981" r="3"/><text class="m" x="3350" y="1986">is_timed() -&gt; bool</text>
<circle class="b" cx="3343" cy="1997" r="3"/><text class="m" x="3350" y="2002">duration() -&gt; float | None</text>
<circle class="b" cx="3343" cy="2014" r="3"/><text class="m" x="3350" y="2019">is_collected(self, player_area: Area) -&gt; bool</text>
<circle class="b" cx="3343" cy="2030" r="3"/><text class="m" x="3350" y="2035">apply_effect(self, player : Player)</text></g>
</svg>
</body></html>
